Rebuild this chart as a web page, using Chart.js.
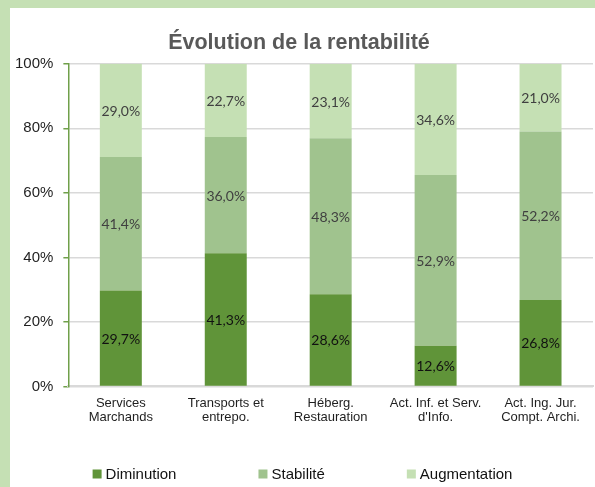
<!DOCTYPE html>
<html><head><meta charset="utf-8">
<script src="https://cdn.jsdelivr.net/npm/chart.js@4/dist/chart.umd.min.js"></script>
<style>
html,body{margin:0;padding:0;background:#c5e0b4;width:595px;height:487px;overflow:hidden}
#wrap{position:absolute;left:10px;top:8px;width:585px;height:479px;background:#fff}
canvas{display:block}
</style></head><body>
<div id="wrap"><canvas id="c" width="585" height="479"></canvas></div>
<script>
const categories = [["Services","Marchands"],["Transports et","entrepo."],["Héberg.","Restauration"],["Act. Inf. et Serv.","d'Info."],["Act. Ing. Jur.","Compt. Archi."]];
const diminution = [29.7, 41.3, 28.6, 12.6, 26.8];
const stabilite = [41.4, 36.0, 48.3, 52.9, 52.2];
const augmentation = [29.0, 22.7, 23.1, 34.6, 21.0];
const seriesNames = ["Diminution","Stabilité","Augmentation"];
const yTicks = [0,20,40,60,80,100];

const colors = ["#609439","#a0c38e","#c5e0b4"];
const labelColors = ["#111111","#404040","#404040"];

const dataLabels = {
  id:'dataLabels',
  afterDatasetsDraw(chart){
    const ctx = chart.ctx;
    ctx.save();
    ctx.font = '14px Lato, "Open Sans", sans-serif';
    ctx.textAlign='center'; ctx.textBaseline='middle';
    chart.data.datasets.forEach((ds,i)=>{
      const meta = chart.getDatasetMeta(i);
      meta.data.forEach((el,j)=>{
        const v = ds.data[j];
        const top = Math.max(el.y, chart.chartArea.top);
        const y = (top + el.base)/2;
        ctx.fillStyle = labelColors[i];
        ctx.fillText(v.toFixed(1).replace('.',',')+'%', el.x, y+1);
      });
    });
    ctx.restore();
  }
};

const customLegend = {
  id:'customLegend',
  afterDraw(chart){
    const ctx = chart.ctx;
    ctx.save();
    ctx.font = '15px "Liberation Sans", Arial, sans-serif';
    ctx.textBaseline='middle'; ctx.textAlign='left';
    const box=9, gapBT=4, gap=82;
    const widths = chart.data.datasets.map(d=>box+gapBT+ctx.measureText(d.label).width);
    const total = widths.reduce((a,b)=>a+b,0)+gap*(widths.length-1);
    let x = chart.width/2 - total/2;
    const y = 466;
    chart.data.datasets.forEach((d,i)=>{
      ctx.fillStyle = d.backgroundColor;
      ctx.fillRect(x, y-box/2, box, box);
      ctx.fillStyle = '#111';
      ctx.fillText(d.label, x+box+gapBT, y+1);
      x += widths[i]+gap;
    });
    ctx.restore();
  }
};

new Chart(document.getElementById('c'),{
  type:'bar',
  data:{
    labels:categories,
    datasets:[
      {label:seriesNames[0], data:diminution, backgroundColor:colors[0]},
      {label:seriesNames[1], data:stabilite, backgroundColor:colors[1]},
      {label:seriesNames[2], data:augmentation, backgroundColor:colors[2]}
    ]
  },
  options:{
    responsive:false, animation:false,
    layout:{padding:{left:-5,right:2,top:0,bottom:60}},
    datasets:{bar:{categoryPercentage:1, barPercentage:0.4, borderWidth:0}},
    plugins:{
      legend:{display:false},
      tooltip:{enabled:false},
      title:{display:true, text:'Évolution de la rentabilité', color:'#595959',
        font:{family:'"Liberation Sans", Arial, sans-serif', size:21.5, weight:'bold'},
        padding:{top:22,bottom:8}}
    },
    scales:{
      x:{stacked:true,
        grid:{display:false},
        border:{color:'#d9d9d9', width:2},
        ticks:{color:'#1f1f1f', padding:2, maxRotation:0,
          font:{family:'"Liberation Sans", Arial, sans-serif', size:13, lineHeight:1.1}}},
      y:{stacked:true, min:0, max:100,
        afterBuildTicks(axis){ axis.ticks = yTicks.map(v=>({value:v})); },
        grid:{color:'#d9d9d9', lineWidth:1.5, tickColor:'#70a04a', tickLength:5},
        border:{color:'#70a04a', width:1.5},
        ticks:{color:'#1f1f1f', padding:10, callback:v=>v+'%',
          font:{family:'"Liberation Sans", Arial, sans-serif', size:15}}}
    }
  },
  plugins:[dataLabels, customLegend]
});
</script>
</body></html>
